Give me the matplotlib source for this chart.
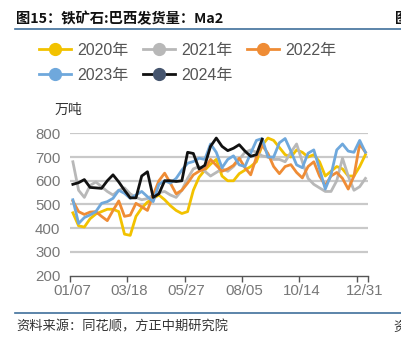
import matplotlib
matplotlib.use("Agg")
import matplotlib.pyplot as plt
from matplotlib.lines import Line2D
import numpy as np

plt.rcParams['font.family'] = ['Liberation Sans', 'Noto Sans CJK SC', 'DejaVu Sans']

W, H = 402, 342

series_names = ['2020年', '2021年', '2022年', '2023年', '2024年']
tick_labels = ['01/07', '03/18', '05/27', '08/05', '10/14', '12/31']

y2020 = [465, 410, 405, 440, 460, 470, 480, 480, 470, 375, 370, 450, 485, 510, 525, 540,
         520, 495, 475, 462, 470, 560, 615, 645, 670, 690, 620, 600, 600, 630, 645, 660,
         680, 750, 780, 770, 740, 710, 700, 730, 720, 700, 710, 680, 620, 640, 660, 650,
         620, 620, 660, 710]
y2021 = [680, 560, 530, 580, 595, 575, 555, 540, 560, 570, 545, 530, 520, 525, 540, 550,
         555, 540, 530, 560, 610, 650, 660, 640, 620, 635, 650, 640, 660, 690, 720, 730,
         720, 705, 700, 690, 690, 680, 720, 755, 680, 610, 585, 570, 555, 555, 600, 695,
         620, 560, 575, 610]
y2022 = [515, 470, 458, 468, 470, 450, 432, 475, 515, 450, 455, 505, 490, 475, 540, 600,
         632, 590, 545, 560, 590, 625, 640, 650, 690, 665, 640, 650, 665, 695, 655, 625,
         700, 750, 715, 660, 630, 660, 668, 635, 612, 660, 680, 620, 580, 620, 635, 610,
         565, 620, 755, 720]
y2023 = [520, 420, 445, 456, 470, 505, 512, 526, 560, 547, 526, 540, 555, 533, 512, 585,
         600, 590, 610, 645, 674, 681, 695, 690, 755, 720, 655, 690, 705, 667, 660, 716,
         770, 778, 700, 700, 760, 778, 725, 667, 655, 716, 730, 650, 565, 625, 730, 755,
         725, 720, 770, 720]
y2024 = [585, 592, 605, 572, 570, 568, 600, 625, 595, 560, 528, 528, 620, 638, 530, 545,
         600, 600, 597, 600, 720, 715, 650, 665, 745, 780, 745, 727, 737, 752, 725, 703,
         710, 775]

colors = ['#F2C200', '#B8B8B8', '#EF8C35', '#6FA8DC', '#111111']
legend_marker_colors = ['#F2C200', '#B8B8B8', '#EF8C35', '#6FA8DC', '#46556E']

fig = plt.figure(figsize=(W / 100, H / 100), dpi=100)
ax = fig.add_axes([70 / W, 1 - 275.7 / H, 298.3 / W, (275.7 - 133.3) / H])

for vals, c in zip([y2020, y2021, y2022, y2023, y2024], colors):
    x = np.arange(len(vals)) + 0.5
    ax.plot(x, vals, color=c, lw=2.0, solid_joinstyle='round', clip_on=False, zorder=3)

ax.set_xlim(0, 52)
ax.set_ylim(200, 800)
ax.set_yticks([200, 300, 400, 500, 600, 700, 800])
ax.tick_params(axis='y', length=0, pad=7, labelsize=10.8, labelcolor='#777777')
for yv in [300, 400, 500, 600, 700, 800]:
    ax.axhline(yv, color='#C9C9C9', lw=1.6, zorder=1)

ax.set_xticks([0.35, 10.35, 20.35, 30.35, 40.35, 51.4])
ax.set_xticklabels(tick_labels)
ax.set_xticks([0, 10, 20, 30, 40, 50, 52], minor=True)
ax.tick_params(axis='x', which='major', length=0, pad=6, labelsize=10.8, labelcolor='#777777')
ax.tick_params(axis='x', which='minor', length=4, width=1, color='#555555', direction='out')

for s in ['top', 'right', 'left']:
    ax.spines[s].set_visible(False)
ax.spines['bottom'].set_color('#555555')
ax.spines['bottom'].set_linewidth(1.0)
ax.set_facecolor('none')

# unit label
fig.text(55 / W, 1 - 110 / H, '万吨', fontsize=10, color='#333333',
         family=['Noto Sans CJK SC'], va='center', ha='left')

# legend (row-major order: 2020, 2021, 2022 / 2023, 2024)
handles = [Line2D([], [], color=c, lw=2.0, marker='o', markersize=8.5,
                  markerfacecolor=mc, markeredgecolor=mc)
           for c, mc in zip(colors, legend_marker_colors)]
order = [0, 3, 1, 4, 2]
fig.legend([handles[i] for i in order], [series_names[i] for i in order],
           loc='upper left', ncol=3,
           bbox_to_anchor=(39 / W, 1 - 43 / H), frameon=False,
           handlelength=2.0, handletextpad=0.4, columnspacing=0.9,
           labelspacing=0.6, borderpad=0, borderaxespad=0,
           prop={'family': ['Liberation Sans', 'Noto Sans CJK SC'], 'size': 11.5},
           labelcolor='#555555')

# title and rules
fig.text(16 / W, 1 - 19 / H, '图15：铁矿石:巴西发货量：Ma2', fontsize=10.3, fontweight='bold',
         color='#111111', family=['Noto Sans CJK SC'], va='center', ha='left')
fig.text(395 / W, 1 - 19 / H, '图', fontsize=10.3, fontweight='bold',
         color='#111111', family=['Noto Sans CJK SC'], va='center', ha='left')
fig.add_artist(Line2D([15 / W, 1.0], [1 - 29.3 / H, 1 - 29.3 / H], color='#3F6F9B', lw=1.2))
fig.add_artist(Line2D([15 / W, 1.0], [1 - 313 / H, 1 - 313 / H], color='#3F6F9B', lw=1.2))

fig.text(16 / W, 1 - 327 / H, '资料来源：同花顺，方正中期研究院', fontsize=9.5, style='italic',
         color='#333333', family=['Noto Sans CJK SC'], va='center', ha='left')
fig.text(393 / W, 1 - 327 / H, '资', fontsize=9.5, style='italic',
         color='#333333', family=['Noto Sans CJK SC'], va='center', ha='left')

fig.savefig('out.png', dpi=100)
